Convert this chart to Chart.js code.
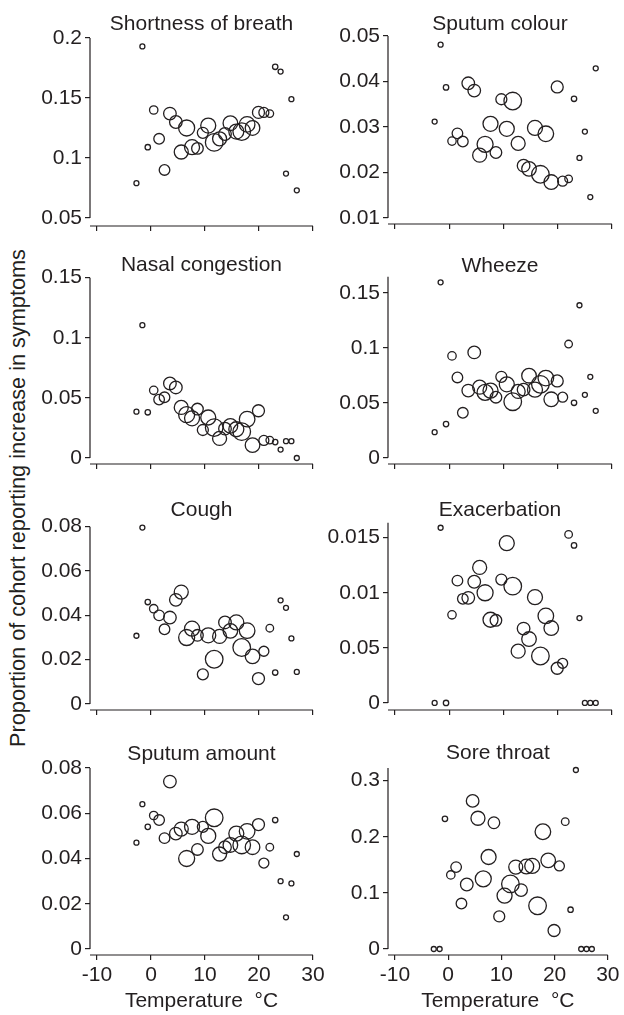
<!DOCTYPE html>
<html>
<head>
<meta charset="utf-8">
<script src="https://cdn.jsdelivr.net/npm/chart.js@4.4.1/dist/chart.umd.min.js"></script>
<style>
  html, body { margin: 0; padding: 0; background: #fff; }
  #wrap { position: relative; width: 624px; height: 1015px; overflow: hidden; }
  #wrap canvas { position: absolute; left: 0; top: 0; }
  #ytitle {
    position: absolute; left: -284px; top: 487px; width: 600px; height: 22px; line-height: 22px;
    text-align: center; transform: rotate(-90deg); white-space: nowrap; color: #231f20;
    font: 21.7px 'Liberation Sans', Arial, sans-serif;
  }
</style>
</head>
<body>
<div id="wrap">
  <div id="ytitle">Proportion of cohort reporting increase in symptoms</div>
</div>
<script>
// ---- data ----
// temperature bins (°C), same for every panel
const temps = [-2.7, -1.6, -0.6, 0.5, 1.5, 2.5, 3.5, 4.6, 5.6, 6.6, 7.6, 8.6, 9.6, 10.6, 11.7,
               12.7, 13.7, 14.7, 15.8, 16.8, 17.8, 18.8, 19.9, 20.9, 22.0, 23.0, 24.0, 25.0, 26.0, 27.0];
// bubble radius per bin (amount of days in the bin)
const binR = [2.5, 2.5, 2.7, 4.2, 5.3, 5.3, 6.3, 6.3, 7, 8, 7.5, 5.8, 5.5, 7.5, 8.8,
              7, 6.3, 7.3, 7.5, 8.8, 7.8, 7.3, 6, 5, 3.8, 2.7, 2.5, 2.5, 2.5, 2.5];

const shortnessOfBreath = [0.079, 0.193, 0.109, 0.140, 0.116, 0.090, 0.137, 0.130, 0.105, 0.125, 0.109, 0.108, 0.121, 0.127, 0.113,
                           0.116, 0.120, 0.129, 0.122, 0.122, 0.128, 0.125, 0.138, 0.138, 0.137, 0.176, 0.172, 0.087, 0.149, 0.073];
const sputumColour = [0.0312, 0.0481, 0.0387, 0.0269, 0.0286, 0.0268, 0.0396, 0.0380, 0.0238, 0.0262, 0.0307, 0.0244, 0.0361, 0.0296, 0.0357,
                      0.0264, 0.0215, 0.0208, 0.0298, 0.0196, 0.0285, 0.0179, 0.0388, 0.0181, 0.0186, 0.0362, 0.0232, 0.0290, 0.0146, 0.0429];
const nasalCongestion = [0.0385, 0.1105, 0.0380, 0.0563, 0.0486, 0.0505, 0.0620, 0.0587, 0.0421, 0.0360, 0.0330, 0.0407, 0.0233, 0.0337, 0.0253,
                         0.0163, 0.0244, 0.0267, 0.0239, 0.0219, 0.0323, 0.0107, 0.0393, 0.0146, 0.0149, 0.0132, 0.0070, 0.0140, 0.0140, 0];
const wheeze = [0.0233, 0.1597, 0.0306, 0.0927, 0.0731, 0.0409, 0.0611, 0.0959, 0.0642, 0.0595, 0.0611, 0.0551, 0.0737, 0.0668, 0.0510,
                0.0604, 0.0620, 0.0747, 0.0620, 0.0668, 0.0725, 0.0532, 0.0699, 0.0551, 0.1035, 0.0500, 0.1388, 0.0573, 0.0737, 0.0427];
const cough = [0.0308, 0.0796, 0.0460, 0.0430, 0.0400, 0.0337, 0.0390, 0.0470, 0.0505, 0.0300, 0.0340, 0.0310, 0.0134, 0.0310, 0.0202,
               0.0305, 0.0368, 0.0330, 0.0368, 0.0255, 0.0331, 0.0215, 0.0115, 0.0238, 0.0342, 0.0142, 0.0468, 0.0434, 0.0296, 0.0145];
const exacerbation = [0, 0.0159, 0, 0.0080, 0.0111, 0.00945, 0.00954, 0.0110, 0.0123, 0.0100, 0.00755, 0.0075, 0.0112, 0.0145, 0.0106,
                      0.0047, 0.00675, 0.0058, 0.0096, 0.00426, 0.0079, 0.0068, 0.00315, 0.0036, 0.0153, 0.0143, 0.0077, 0, 0, 0];
const sputumAmount = [0.047, 0.064, 0.054, 0.059, 0.057, 0.049, 0.074, 0.051, 0.053, 0.040, 0.054, 0.044, 0.054, 0.050, 0.058,
                      0.042, 0.045, 0.046, 0.051, 0.046, 0.052, 0.045, 0.055, 0.038, 0.045, 0.057, 0.030, 0.014, 0.029, 0.042];
const soreThroat = [0, 0, 0.232, 0.132, 0.146, 0.081, 0.115, 0.264, 0.233, 0.125, 0.164, 0.225, 0.058, 0.095, 0.116,
                    0.146, 0.105, 0.147, 0.148, 0.077, 0.209, 0.158, 0.033, 0.148, 0.227, 0.070, 0.319, 0, 0, 0];

// ---- ticks ----
const xTicks = [-10, 0, 10, 20, 30];
const breathTicks = [0.05, 0.1, 0.15, 0.2];
const breathLabels = ['0.05', '0.1', '0.15', '0.2'];
const colourTicks = [0.01, 0.02, 0.03, 0.04, 0.05];
const colourLabels = ['0.01', '0.02', '0.03', '0.04', '0.05'];
const nasalTicks = [0, 0.05, 0.1, 0.15];
const nasalLabels = ['0', '0.05', '0.1', '0.15'];
const wheezeTicks = [0, 0.05, 0.1, 0.15];
const wheezeLabels = ['0', '0.05', '0.1', '0.15'];
const coughTicks = [0, 0.02, 0.04, 0.06, 0.08];
const coughLabels = ['0', '0.02', '0.04', '0.06', '0.08'];
const exacTicks = [0, 0.005, 0.01, 0.015];
const exacLabels = ['0', '0.05', '0.01', '0.015'];   // as printed in the original
const amountTicks = [0, 0.02, 0.04, 0.06, 0.08];
const amountLabels = ['0', '0.02', '0.04', '0.06', '0.08'];
const soreTicks = [0, 0.1, 0.2, 0.3];
const soreLabels = ['0', '0.1', '0.2', '0.3'];

// ---- layout (pixels on the page) ----
const INK = '#231f20';
const FONT = "'Liberation Sans', Arial, sans-serif";
const FS = 21;
const PAGE_W = 624, PAGE_H = 1015, Y_W = 70;
const cols = [{ left: 90, right: 313 }, { left: 388, right: 612 }];

const panels = [
  { title: 'Shortness of breath', values: shortnessOfBreath, ticks: breathTicks, labels: breathLabels, min: 0.0433, max: 0.2,     col: 0, top: 38,    bottom: 226, titleY: 24 },
  { title: 'Sputum colour',       values: sputumColour,      ticks: colourTicks, labels: colourLabels, min: 0.00868, max: 0.05,   col: 1, top: 36,    bottom: 224, titleY: 24 },
  { title: 'Nasal congestion',    values: nasalCongestion,   ticks: nasalTicks,  labels: nasalLabels,  min: -0.005, max: 0.15,    col: 0, top: 277.7, bottom: 464, titleY: 265.5 },
  { title: 'Wheeze',              values: wheeze,            ticks: wheezeTicks, labels: wheezeLabels, min: -0.0057, max: 0.1648, col: 1, top: 276.7, bottom: 464, titleY: 266.7 },
  { title: 'Cough',               values: cough,             ticks: coughTicks,  labels: coughLabels,  min: -0.0027, max: 0.08,   col: 0, top: 526.7, bottom: 710, titleY: 510.5 },
  { title: 'Exacerbation',        values: exacerbation,      ticks: exacTicks,   labels: exacLabels,   min: -0.00064, max: 0.01636, col: 1, top: 522.7, bottom: 710, titleY: 510.3 },
  { title: 'Sputum amount',       values: sputumAmount,      ticks: amountTicks, labels: amountLabels, min: -0.00265, max: 0.08,  col: 0, top: 768,   bottom: 955, titleY: 753.8, last: true },
  { title: 'Sore throat',         values: soreThroat,        ticks: soreTicks,   labels: soreLabels,   min: -0.0107, max: 0.3226, col: 1, top: 768,   bottom: 955, titleY: 753.3, last: true },
];

// y axis stops at the lowest tick, x axis sits a bit below it (detached corner)
const detachedAxes = {
  id: 'detachedAxes',
  afterDraw(chart) {
    const { ctx, chartArea: a, scales: { x, y } } = chart;
    ctx.save();
    ctx.strokeStyle = INK;
    ctx.lineWidth = 1.2;
    ctx.beginPath();
    ctx.moveTo(a.left, y.getPixelForValue(y.max));
    ctx.lineTo(a.left, y.getPixelForValue(y.ticks[0].value));
    ctx.moveTo(a.left, a.bottom);
    ctx.lineTo(x.getPixelForValue(x.ticks[x.ticks.length - 1].value), a.bottom);
    ctx.stroke();
    ctx.restore();
  }
};

const wrap = document.getElementById('wrap');

function makePanel(p) {
  const c = cols[p.col];
  const xH = p.last ? 56.5 : 10;
  const padTop = p.titleY - FS / 2;
  const canvas = document.createElement('canvas');
  canvas.width = PAGE_W;
  canvas.height = PAGE_H;
  wrap.appendChild(canvas);

  new Chart(canvas, {
    type: 'bubble',
    data: {
      datasets: [{
        data: temps.map((t, i) => ({ x: t, y: p.values[i], r: binR[i] })),
        backgroundColor: 'rgba(0,0,0,0)',
        borderColor: INK,
        borderWidth: 1.3,
        clip: false
      }]
    },
    options: {
      responsive: false,
      animation: false,
      events: [],
      layout: { padding: { left: c.left - Y_W, right: PAGE_W - c.right, top: padTop, bottom: PAGE_H - p.bottom - xH } },
      plugins: {
        legend: { display: false },
        tooltip: { enabled: false },
        title: {
          display: true, text: p.title, color: INK, fullSize: false,
          font: { family: FONT, size: FS, weight: 'normal', lineHeight: 1 },
          padding: { top: 0, bottom: p.top - padTop - FS }
        }
      },
      scales: {
        x: {
          type: 'linear', min: -11.3, max: 30,
          afterBuildTicks: s => { s.ticks = xTicks.map(v => ({ value: v })); },
          afterFit: s => { s.height = xH; },
          grid: { drawOnChartArea: false, tickLength: 5, color: INK, lineWidth: 1.2 },
          border: { display: false },
          ticks: { display: !!p.last, color: INK, padding: 4.5, maxRotation: 0, font: { family: FONT, size: FS, lineHeight: 1 } },
          title: { display: !!p.last, text: 'Temperature  °C', color: INK, padding: { top: 0, bottom: 0 },
                   font: { family: FONT, size: FS, lineHeight: 1 } }
        },
        y: {
          type: 'linear', min: p.min, max: p.max,
          afterBuildTicks: s => { s.ticks = p.ticks.map(v => ({ value: v })); },
          afterFit: s => { s.width = Y_W; },
          grid: { drawOnChartArea: false, tickLength: 5, color: INK, lineWidth: 1.2 },
          border: { display: false },
          ticks: { color: INK, padding: 3, font: { family: FONT, size: FS, lineHeight: 1 },
                   callback: (v, i) => p.labels[i] }
        }
      }
    },
    plugins: [detachedAxes]
  });
}

panels.forEach(makePanel);
</script>
</body>
</html>
